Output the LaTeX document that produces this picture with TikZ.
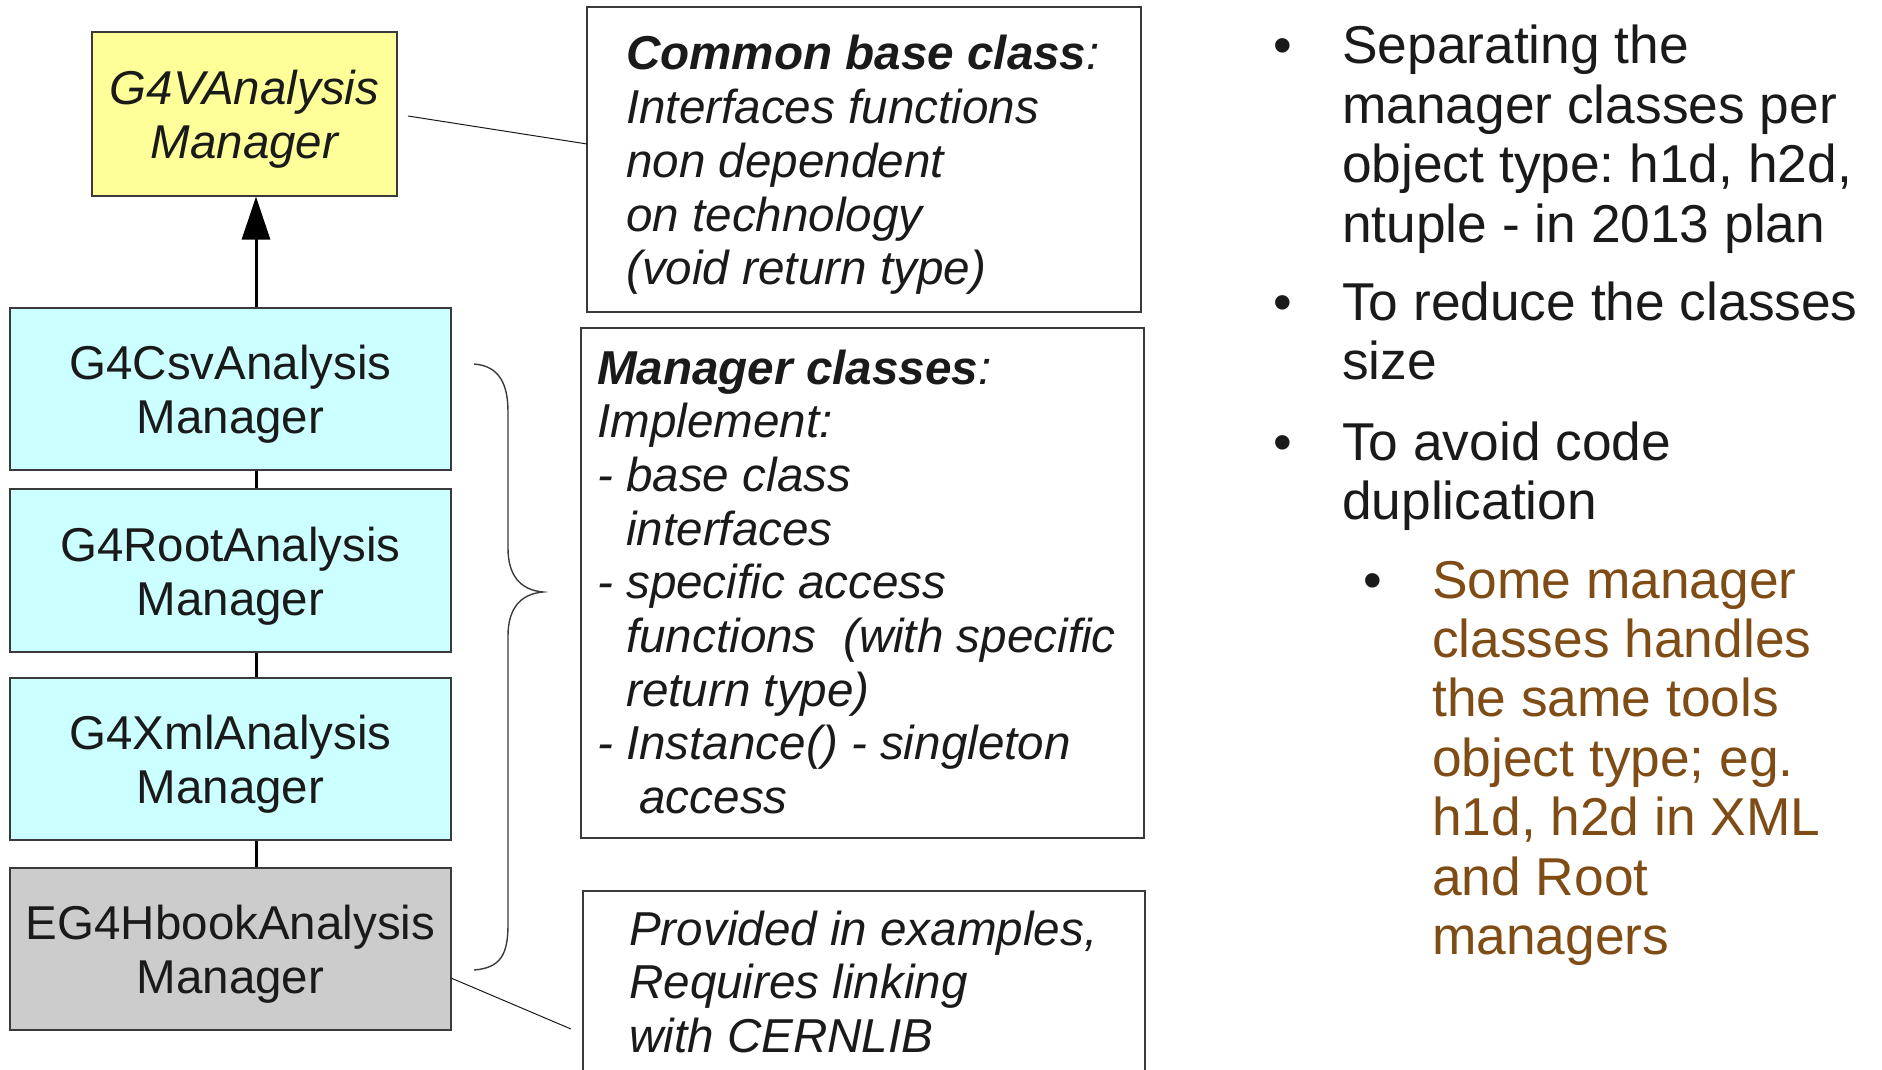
\documentclass[tikz,border=0pt]{standalone}
\usepackage{fontspec}
\setmainfont{Liberation Sans}
\usetikzlibrary{arrows.meta}
\frenchspacing
\definecolor{ink}{HTML}{1A1A1A}
\definecolor{edge}{HTML}{3A3A3A}
\definecolor{bxyellow}{HTML}{FFFF99}
\definecolor{bxcyan}{HTML}{CCFFFF}
\definecolor{bxgray}{HTML}{CCCCCC}
\definecolor{brownnote}{RGB}{128,76,22}
\newcommand{\boxfont}{\fontsize{47.5}{54}\selectfont}
\newcommand{\notefont}{\fontsize{47.6}{53.7}\selectfont}
\newcommand{\listfont}{\fontsize{53.3}{59.4}\selectfont}
\newcommand{\ind}{\phantom{- }}
% raises the first line of a class label so the block sits a little lower
\newcommand{\toprule}{\rule{0pt}{45pt}}
\begin{document}
\begin{tikzpicture}[x=1pt,y=-1pt,
  classbox/.style={draw=edge, line width=1.2pt, text=ink, align=center,
    inner sep=0pt, font=\boxfont},
  notebox/.style={draw=edge, line width=1.2pt, inner sep=0pt},
  notetext/.style={anchor=base west, inner sep=0pt, text=ink},
  link/.style={draw=black, line width=3pt},
  leader/.style={draw=ink, line width=1pt},
  brace/.style={draw=edge, line width=1.4pt},
  dotmark/.style={anchor=base west, inner sep=0pt, text=ink, font=\listfont}]
\useasboundingbox (0,0) rectangle (1882,1070);
\clip (0,0) rectangle (1882,1070);

% class hierarchy
\node[classbox, fill=bxyellow, minimum width=305pt, minimum height=164pt]
  (gv) at (244.5,114) {\toprule\itshape G4VAnalysis\\\itshape Manager};
\node[classbox, fill=bxcyan, minimum width=441pt, minimum height=162pt]
  (csv) at (230.5,389) {\toprule G4CsvAnalysis\\Manager};
\node[classbox, fill=bxcyan, minimum width=441pt, minimum height=163pt]
  (root) at (230.5,570.5) {\toprule G4RootAnalysis\\Manager};
\node[classbox, fill=bxcyan, minimum width=441pt, minimum height=162pt]
  (xml) at (230.5,759) {\toprule G4XmlAnalysis\\Manager};
\node[classbox, fill=bxgray, minimum width=441pt, minimum height=162pt]
  (hb) at (230.5,949) {\toprule EG4HbookAnalysis\\Manager};

\coordinate (ax) at (256,0);
\draw[link, -{Triangle[width=28pt,length=43pt]}] (csv.north -| ax) -- (gv.south -| ax);
\draw[link] (csv.south -| ax) -- (root.north -| ax);
\draw[link] (root.south -| ax) -- (xml.north -| ax);
\draw[link] (xml.south -| ax) -- (hb.north -| ax);

% explanatory notes
\node[notebox, minimum width=554pt, minimum height=305pt] (cb) at (864,159.5) {};
\node[notetext] (cbtxt) at (626,70) {\parbox[t]{510pt}{\notefont\itshape\raggedright
  \textbf{Common base class}:\\
  Interfaces functions\\
  non dependent\\
  on technology\\
  (void return type)}};

\node[notebox, minimum width=563pt, minimum height=510pt] (mc) at (862.5,583) {};
\node[notetext] (mctxt) at (597,384) {\parbox[t]{540pt}{\notefont\itshape\raggedright
  \textbf{Manager classes}:\\
  Implement:\\
  - base class\\
  \ind interfaces\\
  - specific access\\
  \ind functions\ \ (with specific\\
  \ind return type)\\
  - Instance() - singleton\\
  \ind\ access}};

\node[notebox, minimum width=562pt, minimum height=220pt] (pv) at (864,1001) {};
\node[notetext] (pvtxt) at (629,945) {\parbox[t]{510pt}{\notefont\itshape\raggedright
  Provided in examples,\\
  Requires linking\\
  with CERNLIB}};

% leader lines and brace
\coordinate (gvpin) at (408,116);
\coordinate (cbpin) at (587,144);
\draw[leader] (gvpin) -- (cbpin);
\coordinate (hbpin) at (451,978);
\coordinate (pvpin) at (571,1029);
\draw[leader] (hbpin) -- (pvpin);
\draw[brace] (474,364) .. controls (500,366) and (508,385) .. (508,412)
  -- (508,548) .. controls (508,575) and (520,590) .. (543,592)
  .. controls (520,594) and (508,609) .. (508,636)
  -- (508,925) .. controls (508,955) and (500,968) .. (474,970);

% bullet list
\node[dotmark] (d1) at (1273,64) {•};
\node[notetext] (b1) at (1342,64) {\parbox[t]{540pt}{\listfont\raggedright
  Separating the\\
  manager classes per\\
  object type: h1d, h2d,\\
  ntuple - in 2013 plan}};
\node[dotmark] (d2) at (1273,320) {•};
\node[notetext] (b2) at (1342,320) {\parbox[t]{540pt}{\listfont\raggedright
  To reduce the classes\\
  size}};
\node[dotmark] (d3) at (1273,460) {•};
\node[notetext] (b3) at (1342,460) {\parbox[t]{540pt}{\listfont\raggedright
  To avoid code\\
  duplication}};
\node[dotmark] (d4) at (1363,598) {•};
\node[notetext, text=brownnote] (b4) at (1432,598) {\parbox[t]{440pt}{\listfont\raggedright
  Some manager\\
  classes handles\\
  the same tools\\
  object type; eg.\\
  h1d, h2d in XML\\
  and Root\\
  managers}};
\end{tikzpicture}
\end{document}
